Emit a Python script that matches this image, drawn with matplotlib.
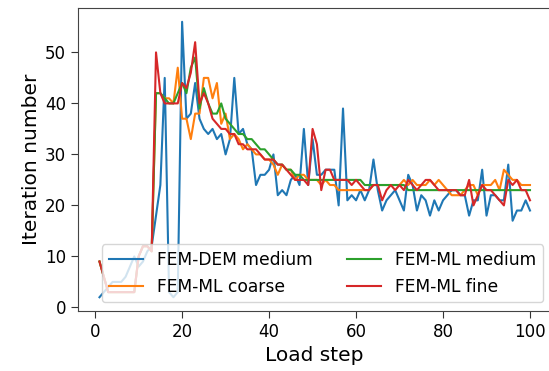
import matplotlib
matplotlib.use("Agg")
import matplotlib.pyplot as plt

# Pasos de carga 1..100
steps = list(range(1, 101))

# Número de iteraciones por paso
fem_dem_medium = [
    2, 3, 4, 5, 5, 5, 6, 8, 10, 8,
    9, 11, 12, 18, 24, 45, 3, 2, 3, 56,
    37, 38, 44, 37, 35, 34, 35, 33, 34, 30,
    33, 45, 34, 35, 32, 31, 24, 26, 26, 27,
    30, 22, 23, 22, 25, 26, 24, 35, 24, 33,
    26, 26, 27, 27, 27, 20, 39, 21, 22, 21,
    23, 21, 23, 29, 23, 19, 21, 22, 23, 21,
    19, 26, 24, 19, 22, 21, 18, 21, 19, 21,
    22, 23, 23, 22, 22, 18, 21, 21, 27, 18,
    22, 22, 21, 21, 28, 17, 19, 19, 21, 19,
]
fem_ml_coarse = [
    9, 6, 3, 3, 3, 3, 3, 3, 3, 10,
    12, 12, 11, 42, 42, 41, 41, 40, 47, 37,
    37, 33, 38, 38, 45, 45, 41, 44, 36, 38,
    33, 34, 33, 31, 32, 31, 30, 30, 29, 29,
    28, 26, 28, 27, 27, 25, 26, 26, 25, 25,
    25, 24, 25, 24, 24, 23, 23, 23, 23, 23,
    23, 23, 23, 24, 24, 24, 24, 24, 24, 24,
    25, 24, 25, 24, 24, 24, 25, 24, 25, 24,
    23, 22, 22, 22, 23, 24, 24, 22, 24, 24,
    24, 25, 23, 27, 26, 25, 25, 24, 24, 24,
]
fem_ml_medium = [
    9, 6, 3, 3, 3, 3, 3, 3, 3, 10,
    12, 12, 11, 42, 42, 41, 40, 40, 42, 44,
    42, 47, 49, 39, 43, 40, 38, 38, 40, 37,
    36, 35, 34, 34, 33, 33, 32, 31, 31, 30,
    29, 28, 28, 27, 27, 26, 26, 25, 25, 25,
    25, 25, 25, 25, 25, 25, 25, 25, 25, 25,
    25, 24, 24, 24, 24, 24, 24, 24, 24, 24,
    24, 23, 23, 23, 23, 23, 23, 23, 23, 23,
    23, 23, 23, 23, 23, 23, 23, 23, 23, 23,
    23, 23, 23, 23, 23, 23, 23, 23, 23, 23,
]
fem_ml_fine = [
    9, 6, 3, 3, 3, 3, 3, 3, 3, 10,
    12, 12, 11, 50, 42, 40, 40, 40, 40, 44,
    43, 46, 52, 40, 42, 40, 37, 36, 35, 35,
    34, 34, 32, 32, 31, 31, 31, 30, 29, 29,
    29, 28, 28, 27, 26, 25, 25, 25, 24, 35,
    32, 23, 27, 27, 25, 25, 25, 25, 24, 25,
    24, 23, 23, 24, 24, 21, 23, 24, 23, 24,
    23, 25, 24, 23, 24, 25, 25, 24, 23, 23,
    23, 23, 23, 22, 22, 25, 20, 22, 24, 23,
    23, 22, 21, 20, 25, 24, 25, 23, 23, 21,
]

series = [
    ("FEM-DEM medium", fem_dem_medium),
    ("FEM-ML coarse", fem_ml_coarse),
    ("FEM-ML medium", fem_ml_medium),
    ("FEM-ML fine", fem_ml_fine),
]


def main():
    fig = plt.figure(figsize=(5.49, 3.71), dpi=100)
    ax = fig.add_axes([0.142, 0.1617, 0.8626, 0.8167])

    for name, vals in series:
        ax.plot(steps, vals, lw=1.5, label=name)

    ax.set_xlabel("Load step", fontsize=14.5)
    ax.set_ylabel("Iteration number", fontsize=14.5, labelpad=3)
    ax.set_xticks([0, 20, 40, 60, 80, 100])
    ax.set_yticks([0, 10, 20, 30, 40, 50])
    ax.tick_params(labelsize=12, length=5, color="#333333")
    for sp in ax.spines.values():
        sp.set_color("#444444")

    ax.legend(ncol=2, loc="lower right", fontsize=12.35)

    fig.savefig("out.png", dpi=100)


if __name__ == "__main__":
    main()
